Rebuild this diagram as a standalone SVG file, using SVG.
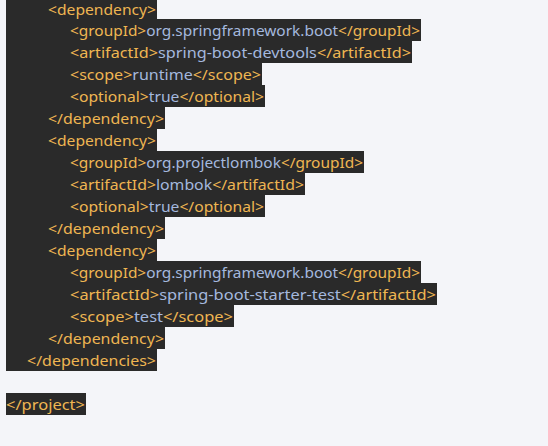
<svg xmlns="http://www.w3.org/2000/svg" width="548" height="446" viewBox="0 0 548 446">
<style>
.hl{fill:#2a2a2a}
text{font-family:"Noto Sans","Liberation Sans",sans-serif;font-size:14.5px;fill:#efb652}
.v{fill:#a4b8de}
</style>
<rect x="0" y="0" width="548" height="446" fill="#f4f5f9"/>
<g id="highlight">
<rect class="hl" x="6" y="0" width="151" height="19"/>
<rect class="hl" x="6" y="19" width="415" height="22"/>
<rect class="hl" x="6" y="41" width="406" height="22"/>
<rect class="hl" x="6" y="63" width="256" height="22"/>
<rect class="hl" x="6" y="85" width="259" height="22"/>
<rect class="hl" x="6" y="107" width="159" height="22"/>
<rect class="hl" x="6" y="129" width="151" height="22"/>
<rect class="hl" x="6" y="151" width="358" height="22"/>
<rect class="hl" x="6" y="173" width="299" height="22"/>
<rect class="hl" x="6" y="195" width="259" height="22"/>
<rect class="hl" x="6" y="217" width="159" height="22"/>
<rect class="hl" x="6" y="239" width="151" height="22"/>
<rect class="hl" x="6" y="261" width="415" height="22"/>
<rect class="hl" x="6" y="283" width="431" height="22"/>
<rect class="hl" x="6" y="305" width="228" height="22"/>
<rect class="hl" x="6" y="327" width="159" height="22"/>
<rect class="hl" x="6" y="349" width="151" height="22"/>
<rect class="hl" x="6" y="393" width="80" height="22"/>
</g>
<g id="code">
<text x="48" y="14.5" textLength="108" lengthAdjust="spacingAndGlyphs">&lt;dependency&gt;</text>
<text x="70" y="36" textLength="350" lengthAdjust="spacingAndGlyphs">&lt;groupId&gt;<tspan class="v">org.springframework.boot</tspan>&lt;/groupId&gt;</text>
<text x="70" y="58" textLength="341" lengthAdjust="spacingAndGlyphs">&lt;artifactId&gt;<tspan class="v">spring-boot-devtools</tspan>&lt;/artifactId&gt;</text>
<text x="70" y="80" textLength="191" lengthAdjust="spacingAndGlyphs">&lt;scope&gt;<tspan class="v">runtime</tspan>&lt;/scope&gt;</text>
<text x="70" y="102" textLength="194" lengthAdjust="spacingAndGlyphs">&lt;optional&gt;<tspan class="v">true</tspan>&lt;/optional&gt;</text>
<text x="48" y="124" textLength="116" lengthAdjust="spacingAndGlyphs">&lt;/dependency&gt;</text>
<text x="48" y="146" textLength="108" lengthAdjust="spacingAndGlyphs">&lt;dependency&gt;</text>
<text x="70" y="168" textLength="293" lengthAdjust="spacingAndGlyphs">&lt;groupId&gt;<tspan class="v">org.projectlombok</tspan>&lt;/groupId&gt;</text>
<text x="70" y="190" textLength="234" lengthAdjust="spacingAndGlyphs">&lt;artifactId&gt;<tspan class="v">lombok</tspan>&lt;/artifactId&gt;</text>
<text x="70" y="212" textLength="194" lengthAdjust="spacingAndGlyphs">&lt;optional&gt;<tspan class="v">true</tspan>&lt;/optional&gt;</text>
<text x="48" y="234" textLength="116" lengthAdjust="spacingAndGlyphs">&lt;/dependency&gt;</text>
<text x="48" y="256" textLength="108" lengthAdjust="spacingAndGlyphs">&lt;dependency&gt;</text>
<text x="70" y="278" textLength="350" lengthAdjust="spacingAndGlyphs">&lt;groupId&gt;<tspan class="v">org.springframework.boot</tspan>&lt;/groupId&gt;</text>
<text x="70" y="300" textLength="366" lengthAdjust="spacingAndGlyphs">&lt;artifactId&gt;<tspan class="v">spring-boot-starter-test</tspan>&lt;/artifactId&gt;</text>
<text x="70" y="322" textLength="163" lengthAdjust="spacingAndGlyphs">&lt;scope&gt;<tspan class="v">test</tspan>&lt;/scope&gt;</text>
<text x="48" y="344" textLength="116" lengthAdjust="spacingAndGlyphs">&lt;/dependency&gt;</text>
<text x="27" y="366" textLength="129" lengthAdjust="spacingAndGlyphs">&lt;/dependencies&gt;</text>
<text x="6" y="410" textLength="79" lengthAdjust="spacingAndGlyphs">&lt;/project&gt;</text>
</g>
</svg>
